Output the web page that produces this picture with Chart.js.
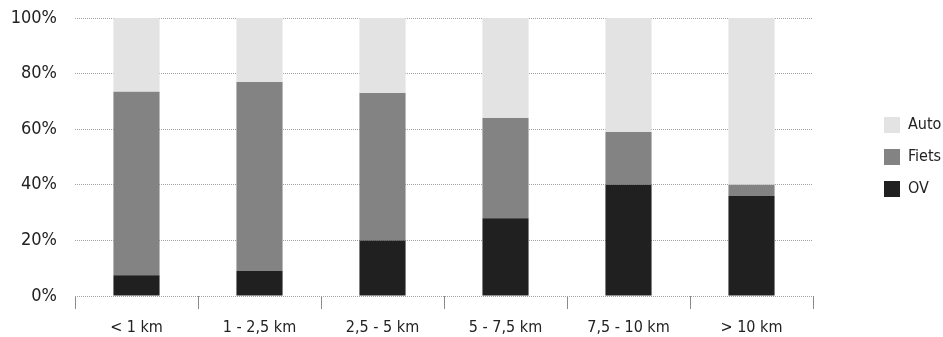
<!DOCTYPE html>
<html>
<head>
<meta charset="utf-8">
<script src="https://cdn.jsdelivr.net/npm/chart.js@4"></script>
<style>
    html, body { margin: 0; padding: 0; background: #fff; }
    #wrap { width: 943px; height: 337px; }
</style>
</head>
<body>
<div id="wrap"><canvas id="modalChart" width="943" height="337"></canvas></div>
<script>
// afstandsklassen en aandeel per vervoerwijze (%)
const afstanden = ['< 1 km', '1 - 2,5 km', '2,5 - 5 km', '5 - 7,5 km', '7,5 - 10 km', '> 10 km'];
const ov = [7.5, 9, 20, 28, 40, 36];
const fiets = [66, 68, 53, 36, 19, 4];
const auto = [26.5, 23, 27, 36, 41, 60];
const yTicks = [0, 20, 40, 60, 80, 100];

const fontFamily = '"DejaVu Sans Condensed", "DejaVu Sans", sans-serif';

const ctx = document.getElementById('modalChart').getContext('2d');

const modalChart = new Chart(ctx, {
    type: 'bar',
    data: {
        labels: afstanden,
        datasets: [
            { label: 'OV', data: ov, backgroundColor: '#202020' },
            { label: 'Fiets', data: fiets, backgroundColor: '#838383' },
            { label: 'Auto', data: auto, backgroundColor: '#e3e3e3' }
        ]
    },
    options: {
        responsive: false,
        animation: false,
        layout: {
            padding: { top: 18, right: 0, left: 0, bottom: 0 }
        },
        datasets: {
            bar: {
                barPercentage: 0.375,
                categoryPercentage: 1.0,
                borderWidth: 0
            }
        },
        scales: {
            x: {
                stacked: true,
                border: { display: false },
                afterFit: (axis) => { axis.height = 41; },
                grid: {
                    display: true,
                    drawOnChartArea: false,
                    drawTicks: true,
                    tickLength: 13,
                    offset: true,
                    color: '#8a8a8a'
                },
                ticks: {
                    color: '#222',
                    padding: 9,
                    font: { family: fontFamily, size: 16 }
                }
            },
            y: {
                stacked: true,
                min: 0,
                max: 100,
                afterFit: (axis) => {
                    axis.width = 75;
                    axis.paddingTop = 0;
                    axis.paddingBottom = 0;
                },
                afterBuildTicks: (axis) => {
                    axis.ticks = yTicks.map(v => ({ value: v }));
                },
                // stippellijnen voor het raster
                border: { display: false, dash: [1, 1] },
                grid: {
                    drawTicks: false,
                    color: '#a0a0a0',
                    lineWidth: 1
                },
                ticks: {
                    color: '#222',
                    padding: 18,
                    font: { family: fontFamily, size: 18 },
                    callback: (v) => v + '%'
                }
            },
            // lege ruimte tussen plot en legenda
            spacer: {
                type: 'linear',
                position: 'right',
                min: 0,
                max: 100,
                afterFit: (axis) => {
                    axis.width = 55;
                    axis.paddingTop = 0;
                    axis.paddingBottom = 0;
                },
                border: { display: false },
                grid: { display: false },
                ticks: { display: false }
            }
        },
        plugins: {
            legend: {
                position: 'right',
                reverse: true,
                fullSize: false,
                maxWidth: 75,
                labels: {
                    boxWidth: 16,
                    boxHeight: 16,
                    padding: 16,
                    color: '#222',
                    font: { family: fontFamily, size: 16 }
                }
            },
            tooltip: { enabled: false }
        }
    }
});
</script>
</body>
</html>
